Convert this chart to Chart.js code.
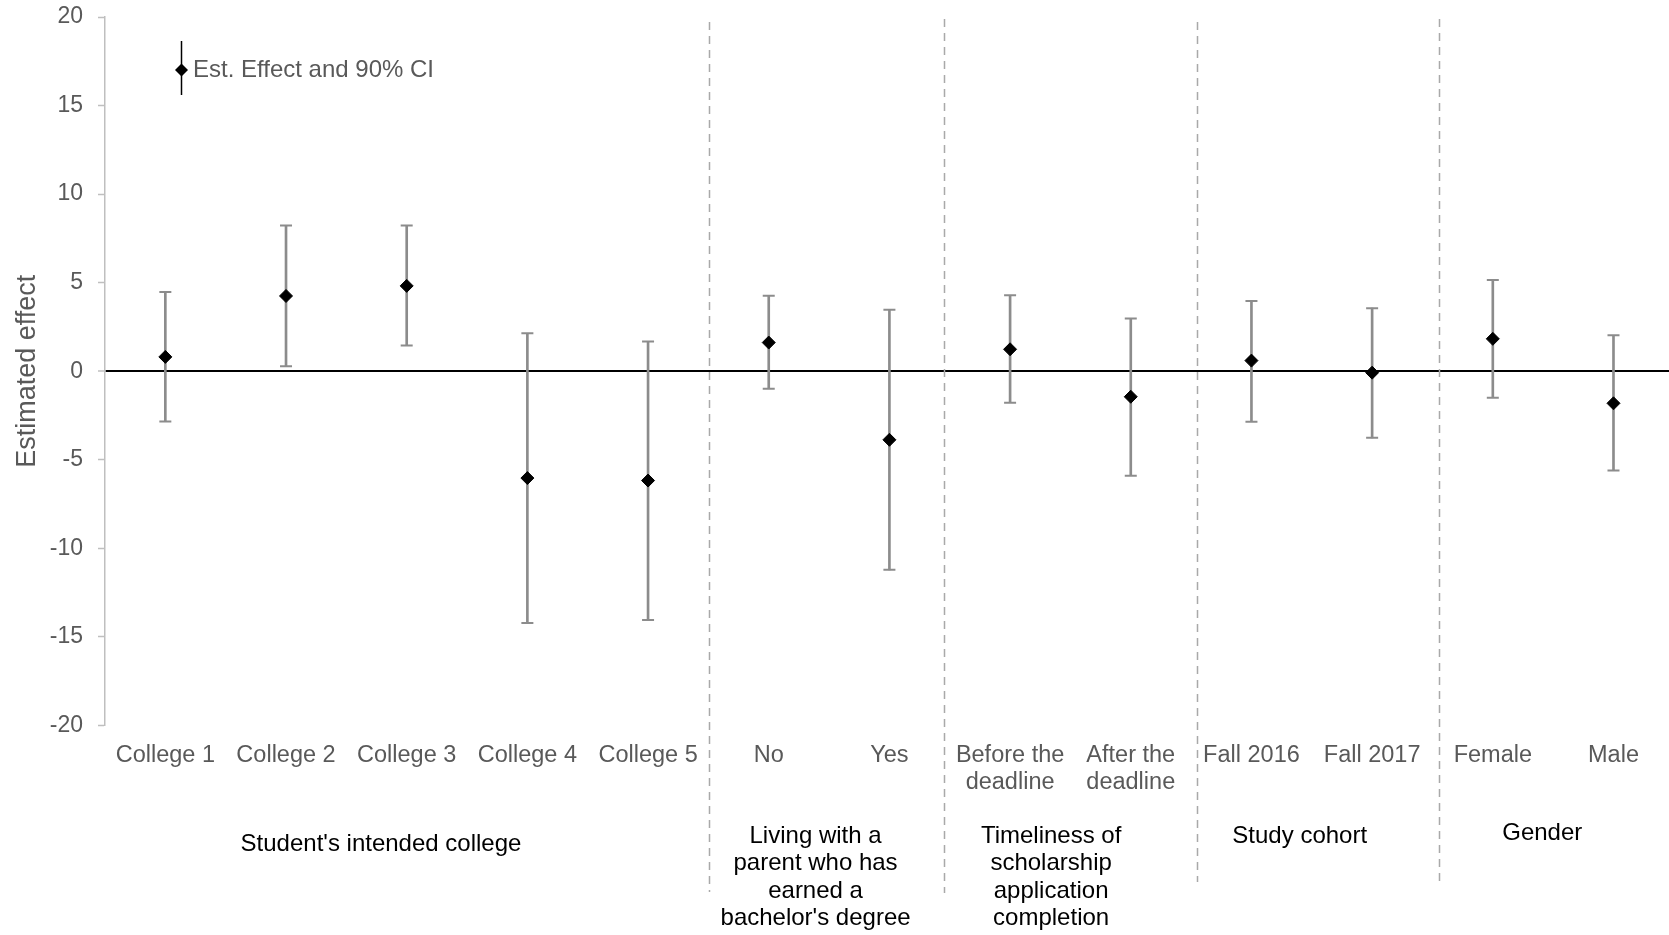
<!DOCTYPE html>
<html>
<head>
<meta charset="utf-8">
<script src="https://cdn.jsdelivr.net/npm/chart.js@4.4.1/dist/chart.umd.min.js"></script>
<style>
  html, body { margin: 0; padding: 0; background: #ffffff; }
  #wrap { width: 1669px; height: 935px; position: relative; }
</style>
</head>
<body>
<div id="wrap"><canvas id="chart"></canvas></div>
<script>
// Subgroup categories along the horizontal axis
const categories = [
  'College 1', 'College 2', 'College 3', 'College 4', 'College 5',
  'No', 'Yes',
  ['Before the', 'deadline'], ['After the', 'deadline'],
  'Fall 2016', 'Fall 2017',
  'Female', 'Male'
];

// Point estimates and 90% confidence bounds
const estimates = [0.81, 4.25, 4.82, -6.03, -6.17, 1.62, -3.87, 1.24, -1.44, 0.60, -0.08, 1.83, -1.81];
const ciLower   = [-2.83, 0.28, 1.45, -14.22, -14.04, -0.99, -11.21, -1.78, -5.90, -2.85, -3.76, -1.49, -5.60];
const ciUpper   = [4.48, 8.23, 8.23, 2.14, 1.68, 4.26, 3.47, 4.29, 2.98, 3.96, 3.56, 5.15, 2.03];

// Value axis tick labels
const yTicks = [-20, -15, -10, -5, 0, 5, 10, 15, 20];

// Grouping captions under the category labels
const groupNames = [
  ["Student's intended college"],
  ['Living with a', 'parent who has', 'earned a', "bachelor's degree"],
  ['Timeliness of', 'scholarship', 'application', 'completion'],
  ['Study cohort'],
  ['Gender']
];

const legendText = 'Est. Effect and 90% CI';
const yTitle = 'Estimated effect';

// ---- styling / layout ----
const FONT = '"Liberation Sans", Arial, Helvetica, sans-serif';
const TEXT_GREY = '#595959';
const AXIS_GREY = '#bfbfbf';
const BAR_GREY = '#8c8c8c';
const DIVIDER_GREY = '#a9a9a9';

const groupLayout = [
  { x: 1.787, y: 844 },
  { x: 5.388, y: 836.5 },
  { x: 7.340, y: 836.5 },
  { x: 9.400, y: 836.5 },
  { x: 11.41, y: 833 }
];
const GROUP_LINE_H = 27.3;
const dividerLayout = [
  { x: 4.505, top: 22, bottom: 892 },
  { x: 6.452, top: 19, bottom: 893 },
  { x: 8.549, top: 22, bottom: 882 },
  { x: 10.554, top: 19, bottom: 882 }
];

const idx = categories.map((_, i) => i);

const overlay = {
  id: 'overlay',
  beforeDatasetsDraw(chart) {
    const ctx = chart.ctx;
    const xs = chart.scales.x;
    ctx.save();
    ctx.strokeStyle = DIVIDER_GREY;
    ctx.lineWidth = 1.5;
    ctx.setLineDash([8, 6]);
    dividerLayout.forEach(d => {
      const px = Math.round(xs.getPixelForValue(d.x)) + 0.5;
      ctx.beginPath();
      ctx.moveTo(px, d.top);
      ctx.lineTo(px, d.bottom);
      ctx.stroke();
    });
    ctx.restore();
  },
  afterDraw(chart) {
    const ctx = chart.ctx;
    const xs = chart.scales.x;
    ctx.save();
    // group captions
    ctx.fillStyle = '#000000';
    ctx.font = '24px ' + FONT;
    ctx.textAlign = 'center';
    ctx.textBaseline = 'middle';
    groupNames.forEach((lines, g) => {
      const px = xs.getPixelForValue(groupLayout[g].x);
      lines.forEach((t, k) => ctx.fillText(t, px, groupLayout[g].y + k * GROUP_LINE_H));
    });
    // legend: whisker, diamond and caption
    const lx = 181.5, ly = 70;
    ctx.strokeStyle = '#000000';
    ctx.lineWidth = 1.5;
    ctx.beginPath();
    ctx.moveTo(lx, 41);
    ctx.lineTo(lx, 95);
    ctx.stroke();
    const r = 6.5;
    ctx.fillStyle = '#000000';
    ctx.beginPath();
    ctx.moveTo(lx - r, ly);
    ctx.lineTo(lx, ly - r);
    ctx.lineTo(lx + r, ly);
    ctx.lineTo(lx, ly + r);
    ctx.closePath();
    ctx.fill();
    ctx.fillStyle = TEXT_GREY;
    ctx.textAlign = 'left';
    ctx.font = '24px ' + FONT;
    ctx.fillText(legendText, 193, ly);
    ctx.restore();
  }
};

new Chart(document.getElementById('chart'), {
  type: 'bar',
  data: {
    datasets: [
      {
        type: 'scatter',
        label: 'Estimate',
        data: idx.map(i => ({ x: i, y: estimates[i] })),
        pointStyle: 'rectRot',
        pointRadius: 6.5,
        pointHoverRadius: 6.5,
        pointBackgroundColor: '#000000',
        pointBorderColor: '#000000',
        pointBorderWidth: 1,
        order: 0
      },
      {
        type: 'scatter',
        label: 'CI caps',
        data: idx.map(i => ({ x: i, y: ciLower[i] })).concat(idx.map(i => ({ x: i, y: ciUpper[i] }))),
        pointStyle: 'line',
        pointRadius: 6,
        pointHoverRadius: 6,
        pointBorderColor: BAR_GREY,
        pointBorderWidth: 2,
        order: 1
      },
      {
        type: 'bar',
        label: '90% CI',
        data: idx.map(i => ({ x: i, y: [ciLower[i], ciUpper[i]] })),
        backgroundColor: BAR_GREY,
        borderWidth: 0,
        barThickness: 2,
        grouped: false,
        order: 2
      }
    ]
  },
  options: {
    responsive: true,
    maintainAspectRatio: false,
    animation: false,
    devicePixelRatio: 1,
    layout: { autoPadding: false, padding: { top: 17, right: 0, bottom: 0, left: 0 } },
    plugins: {
      legend: { display: false },
      tooltip: { enabled: false },
      title: { display: false }
    },
    scales: {
      x: {
        type: 'linear',
        min: -0.5,
        max: 12.46,
        offset: false,
        afterBuildTicks: axis => { axis.ticks = idx.map(i => ({ value: i })); },
        afterFit: axis => {
          axis.height = 209.5;
          axis.paddingLeft = 0;
          axis.paddingRight = 0;
        },
        grid: { display: false, drawTicks: false },
        border: { display: false },
        ticks: {
          autoSkip: false,
          maxRotation: 0,
          minRotation: 0,
          padding: 16.5,
          color: TEXT_GREY,
          font: { family: FONT, size: 23.5, lineHeight: 1.15 },
          callback: v => categories[v]
        }
      },
      y: {
        type: 'linear',
        min: yTicks[0],
        max: yTicks[yTicks.length - 1],
        afterBuildTicks: axis => { axis.ticks = yTicks.map(v => ({ value: v })); },
        afterFit: axis => {
          axis.width = 105;
          axis.paddingTop = 0;
          axis.paddingBottom = 0;
        },
        grid: {
          drawTicks: true,
          tickLength: 7,
          tickColor: AXIS_GREY,
          tickWidth: 1.5,
          color: c => (c.tick && c.tick.value === 0) ? '#000000' : 'rgba(0,0,0,0)',
          lineWidth: c => (c.tick && c.tick.value === 0) ? 2 : 1
        },
        border: { display: true, color: AXIS_GREY, width: 1.5 },
        ticks: {
          padding: 15,
          color: TEXT_GREY,
          font: { family: FONT, size: 23 },
          callback: v => String(v)
        },
        title: {
          display: true,
          text: yTitle,
          color: TEXT_GREY,
          font: { family: FONT, size: 27, lineHeight: 1.2 },
          padding: { top: 11.5, bottom: 0 }
        }
      }
    }
  },
  plugins: [overlay]
});
</script>
</body>
</html>
